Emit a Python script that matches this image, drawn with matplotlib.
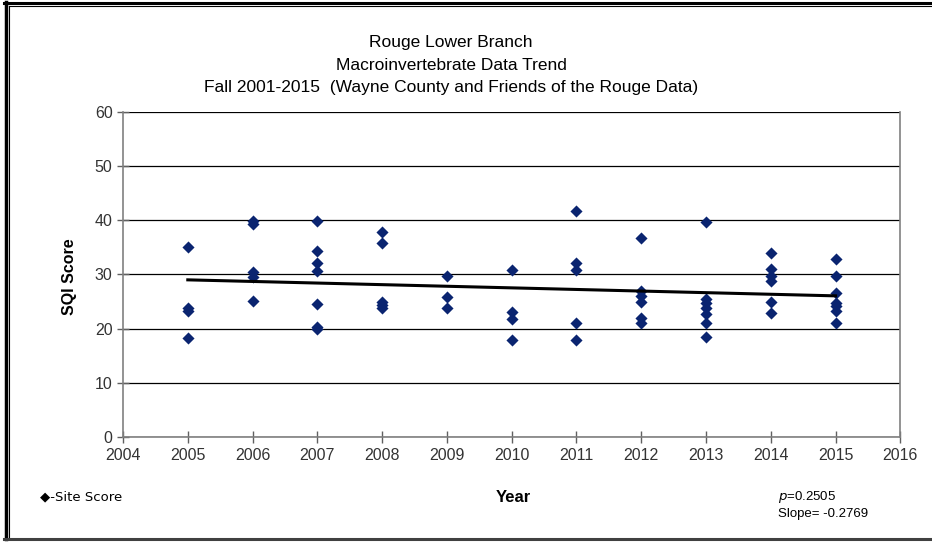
import numpy as np
import matplotlib
matplotlib.use("Agg")
import matplotlib.pyplot as plt
from matplotlib.lines import Line2D

plt.rcParams['font.family'] = ['Liberation Sans', 'DejaVu Sans']

# site scores per fall sampling year
years = [2005, 2006, 2007, 2008, 2009, 2010, 2011, 2012, 2013, 2014, 2015]
scores = [
    [35.0, 23.8, 23.3, 18.2],
    [39.8, 39.4, 30.4, 29.5, 25.2],
    [39.9, 34.4, 32.2, 30.7, 24.5, 20.4, 19.9],
    [37.9, 35.8, 25.0, 24.3, 23.8],
    [29.8, 25.8, 23.8],
    [30.9, 23.0, 21.8, 17.9],
    [41.8, 32.1, 30.9, 21.0, 17.9],
    [36.8, 27.0, 26.0, 25.0, 22.0, 21.0],
    [39.6, 25.4, 24.7, 23.9, 22.7, 21.1, 18.5],
    [33.9, 31.0, 29.8, 28.8, 25.0, 22.9],
    [32.9, 29.8, 26.5, 24.8, 24.2, 23.3, 21.0],
]
xticks = list(range(2004, 2017))
yticks = [0, 10, 20, 30, 40, 50, 60]
p_val = "0.2505"
slope_txt = "-0.2769"

x = np.concatenate([[yr] * len(s) for yr, s in zip(years, scores)])
y = np.concatenate(scores)

fig = plt.figure(figsize=(9.32, 5.43), dpi=100)
ax = fig.add_axes([0.132, 0.195, 0.834, 0.599])

ax.scatter(x, y, marker='D', s=38, color='#0a2470', zorder=3, linewidths=0)

m, b = np.polyfit(x, y, 1)
xl = np.array([years[0], years[-1]])
ax.plot(xl, m * xl + b, color='black', lw=2.2, zorder=4)

ax.set_xlim(2004, 2016)
ax.set_ylim(0, 60)
ax.set_xticks(xticks)
ax.set_yticks(yticks)
ax.yaxis.grid(True, color='black', lw=0.9)
ax.set_axisbelow(True)
for side in ['left', 'bottom', 'right']:
    ax.spines[side].set_color('#808080')
    ax.spines[side].set_linewidth(1.2)
ax.spines['top'].set_visible(False)
ax.tick_params(direction='inout', length=9, width=1, color='#606060',
               labelsize=11.5, labelcolor='#333333', pad=3)

fig.text(0.484, 0.921, "Rouge Lower Branch", ha='center', va='center', fontsize=12.5)
fig.text(0.484, 0.880, "Macroinvertebrate Data Trend", ha='center', va='center', fontsize=12.5)
fig.text(0.484, 0.838, "Fall 2001-2015  (Wayne County and Friends of the Rouge Data)",
         ha='center', va='center', fontsize=12.5)

fig.text(0.075, 0.49, "SQI Score", rotation=90, ha='center', va='center',
         fontsize=11.5, fontweight='bold')
fig.text(0.551, 0.084, "Year", ha='center', va='center', fontsize=12, fontweight='bold')
fig.text(0.043, 0.084, "\u25c6-Site Score", ha='left', va='center', fontsize=9.5,
         family=['DejaVu Sans'])
fig.text(0.835, 0.084, "$\\it{p}$=" + p_val, ha='left', va='center', fontsize=9.5)
fig.text(0.835, 0.053, "Slope= " + slope_txt, ha='left', va='center', fontsize=9.5)

# page frame: top, left and bottom only
fig.add_artist(Line2D([0.004, 1.0], [0.995, 0.995], transform=fig.transFigure,
                      color='black', lw=2.2))
fig.add_artist(Line2D([0.0095, 1.0], [0.989, 0.989], transform=fig.transFigure,
                      color='black', lw=0.8))
fig.add_artist(Line2D([0.006, 0.006], [0.008, 0.996], transform=fig.transFigure,
                      color='black', lw=2.5))
fig.add_artist(Line2D([0.0095, 0.0095], [0.008, 0.989], transform=fig.transFigure,
                      color='black', lw=0.8))
fig.add_artist(Line2D([0.004, 1.0], [0.008, 0.008], transform=fig.transFigure,
                      color='#404040', lw=2.2))

fig.savefig("out.png", dpi=100)
